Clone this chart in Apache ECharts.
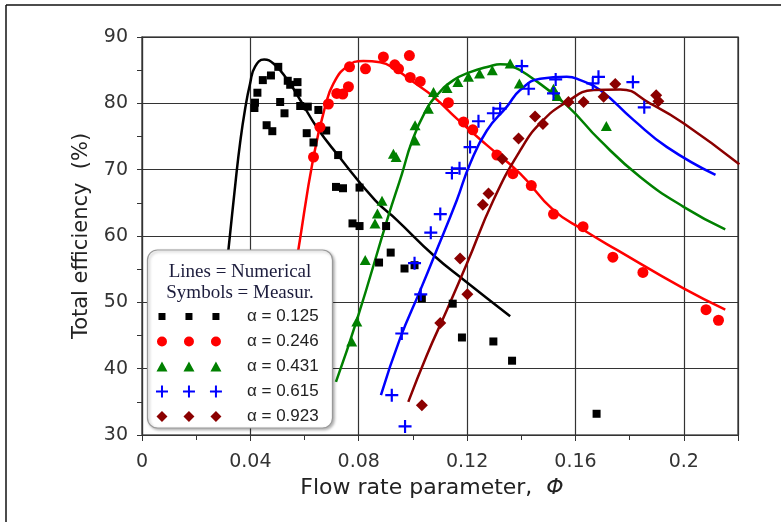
<!doctype html>
<html>
<head>
<meta charset="UTF-8">
<title>Total efficiency</title>
<style>
  html, body { margin: 0; padding: 0; background: #fff; }
  #main { width: 781px; height: 522px; }
</style>
</head>
<body>
<div id="main"></div>
<script src="https://cdn.jsdelivr.net/npm/echarts@6/dist/echarts.min.js"></script>
<script>
// measured points [phi, efficiency %]
var meas125 = [[0.0415,79.3],[0.0417,80.1],[0.0426,81.6],[0.0446,83.5],[0.0460,76.7],[0.0476,84.2],[0.0481,75.8],[0.0503,85.5],[0.0510,80.2],[0.0526,78.5],[0.0538,83.4],[0.0547,82.8],[0.0574,83.2],[0.0574,81.6],[0.0584,79.6],[0.0608,75.5],[0.0612,79.5],[0.0633,74.1],[0.0651,79.0],[0.0680,75.9],[0.0716,67.4],[0.0724,72.2],[0.0742,67.2],[0.0777,61.9],[0.0803,67.3],[0.0803,61.5],[0.0875,56.0],[0.0901,61.5],[0.0918,57.5],[0.0969,55.1],[0.1006,55.6],[0.1033,50.6],[0.1147,49.8],[0.1181,44.7],[0.1297,44.1],[0.1366,41.2],[0.1678,33.2]];
var meas246 = [[0.0633,71.9],[0.0657,76.4],[0.0688,79.9],[0.0719,81.5],[0.0741,81.4],[0.0762,82.5],[0.0766,85.5],[0.0825,85.2],[0.0891,87.0],[0.0933,85.8],[0.0947,85.2],[0.0987,87.2],[0.0990,83.9],[0.1027,83.3],[0.1131,80.1],[0.1187,77.2],[0.1221,76.0],[0.1310,72.2],[0.1369,69.4],[0.1437,67.6],[0.1519,63.3],[0.1628,61.4],[0.1738,56.8],[0.1849,54.5],[0.2082,48.9],[0.2128,47.3]];
var meas431 = [[0.0774,44.1],[0.0793,47.1],[0.0824,56.4],[0.0860,61.9],[0.0869,63.4],[0.0886,65.3],[0.0928,72.4],[0.0938,71.9],[0.1008,74.4],[0.1008,76.7],[0.1057,79.2],[0.1076,81.7],[0.1126,82.3],[0.1166,83.2],[0.1205,84.0],[0.1246,84.5],[0.1293,85.0],[0.1359,86.0],[0.1393,83.0],[0.1519,82.2],[0.1533,81.1],[0.1714,76.6]];
var meas615 = [[0.0971,31.3],[0.0922,36.0],[0.0959,45.3],[0.1029,51.2],[0.1006,55.9],[0.1066,60.5],[0.1101,63.3],[0.1144,69.5],[0.1172,70.2],[0.1211,73.4],[0.1242,77.3],[0.1297,78.5],[0.1322,79.2],[0.1402,85.6],[0.1427,82.2],[0.1527,83.6],[0.1519,81.5],[0.1685,84.0],[0.1664,83.0],[0.1812,83.2],[0.1854,79.4]];
var meas923 = [[0.1033,34.5],[0.1101,46.9],[0.1201,51.2],[0.1174,56.6],[0.1258,64.7],[0.1279,66.4],[0.1330,71.6],[0.1390,74.7],[0.1451,78.0],[0.1480,76.9],[0.1574,80.2],[0.1630,80.2],[0.1704,81.0],[0.1747,82.9],[0.1898,81.2],[0.1906,80.3]];

// numerical curves
var num125 = [[0.0293,48.0],[0.0319,57.9],[0.0346,68.4],[0.0362,74.0],[0.0380,79.0],[0.0399,83.0],[0.0417,85.5],[0.0451,86.6],[0.0485,86.0],[0.0534,83.7],[0.0584,80.5],[0.0645,76.4],[0.0719,72.4],[0.0860,65.4],[0.0941,62.4],[0.1076,57.1],[0.1187,53.4],[0.1359,47.9]];
var num246 = [[0.0538,48.0],[0.0577,57.9],[0.0633,71.9],[0.0676,79.5],[0.0707,83.0],[0.0756,85.5],[0.0817,86.4],[0.0879,86.2],[0.0940,85.0],[0.1002,83.2],[0.1076,81.0],[0.1162,77.7],[0.1273,73.7],[0.1396,69.4],[0.1519,63.9],[0.1630,60.9],[0.1753,57.9],[0.1999,52.1],[0.2153,48.9]];
var num431 = [[0.0716,38.0],[0.0793,47.3],[0.0910,63.1],[0.0959,69.3],[0.0996,74.2],[0.1045,78.7],[0.1088,81.2],[0.1150,83.5],[0.1211,84.7],[0.1285,85.6],[0.1322,85.9],[0.1371,85.5],[0.1433,84.0],[0.1568,79.7],[0.1691,74.4],[0.1839,68.9],[0.1999,64.4],[0.2153,61.0]];
var num615 = [[0.0882,36.0],[0.0953,44.6],[0.1027,51.8],[0.1082,57.3],[0.1162,65.4],[0.1211,70.9],[0.1273,75.9],[0.1347,79.5],[0.1396,82.0],[0.1470,83.7],[0.1568,84.0],[0.1618,83.5],[0.1691,82.0],[0.1814,77.5],[0.1938,73.4],[0.2117,69.2]];
var num923 = [[0.0983,35.0],[0.1051,42.0],[0.1125,48.8],[0.1199,55.8],[0.1297,65.4],[0.1396,72.9],[0.1470,77.0],[0.1568,80.2],[0.1667,82.0],[0.1765,82.1],[0.1875,80.0],[0.1999,77.0],[0.2205,70.8]];

var alphaNames = ['α = 0.125', 'α = 0.246', 'α = 0.431', 'α = 0.615', 'α = 0.923'];
var colors = ['#000000', '#ff0000', '#008000', '#0000ff', '#8b0000'];

// legend icons: three copies of the marker in a 95x12 frame
var frame = 'M0 0h0.01v0.01h-0.01zM95 12h0.01v0.01h-0.01z';
function three(fn) { return 'path://' + frame + fn(15) + fn(42) + fn(69); }
var iconSq = three(function (c) { return 'M' + (c - 3.5) + ' 2.5h7v7h-7z'; });
var iconCi = three(function (c) { return 'M' + (c - 5) + ' 6a5 5 0 1 0 10 0a5 5 0 1 0 -10 0z'; });
var iconTr = three(function (c) { return 'M' + (c - 5.5) + ' 11L' + c + ' 1L' + (c + 5.5) + ' 11z'; });
var iconPl = three(function (c) { return 'M' + (c - 1) + ' 0h2v5h5v2h-5v5h-2v-5h-5v-2h5z'; });
var iconDi = three(function (c) { return 'M' + c + ' 0.5L' + (c + 5.5) + ' 6L' + c + ' 11.5L' + (c - 5.5) + ' 6z'; });

var groups = [
    { meas: meas125, num: num125, symbol: 'rect', size: 8, icon: iconSq },
    { meas: meas246, num: num246, symbol: 'circle', size: 11, icon: iconCi },
    { meas: meas431, num: num431, symbol: 'triangle', size: [11, 10], icon: iconTr },
    { meas: meas615, num: num615, symbol: 'path://M5 0h2v5h5v2h-5v5h-2v-5h-5v-2h5z', size: 13, icon: iconPl },
    { meas: meas923, num: num923, symbol: 'diamond', size: 12, icon: iconDi }
];

var series = [];
groups.forEach(function (g, i) {
    series.push({
        name: alphaNames[i] + ' num',
        type: 'line',
        data: g.num,
        smooth: 0.5,
        showSymbol: false,
        lineStyle: { color: colors[i], width: 2.5 },
        itemStyle: { color: colors[i] },
        z: 2
    });
});
groups.forEach(function (g, i) {
    series.push({
        name: alphaNames[i],
        type: 'scatter',
        data: g.meas,
        symbol: g.symbol,
        symbolSize: g.size,
        itemStyle: { color: colors[i], opacity: 1 },
        z: 3
    });
});

var axisColor = '#333';
var labelFont = { fontFamily: 'DejaVu Sans', fontSize: 19, color: '#333' };

var chart = echarts.init(document.getElementById('main'));
chart.setOption({
    animation: false,
    backgroundColor: '#fff',
    grid: { left: 142, right: 43, top: 37, bottom: 87, show: true, borderColor: '#555', borderWidth: 1.5, outerBoundsMode: 'none' },
    xAxis: {
        type: 'value', min: 0, max: 0.22, interval: 0.04,
        name: 'Flow rate parameter,  {i|Φ}',
        nameLocation: 'middle', nameGap: 42,
        nameTextStyle: { fontFamily: 'DejaVu Sans', fontSize: 22, color: '#222', padding: [0, 16, 0, 0],
            rich: { i: { fontFamily: 'DejaVu Sans', fontSize: 22, fontStyle: 'italic', color: '#222' } } },
        axisLine: { show: true, lineStyle: { color: axisColor, width: 1.2 } },
        axisTick: { show: true, length: 6, lineStyle: { color: axisColor } },
        minorTick: { show: true, splitNumber: 2, length: 5, lineStyle: { color: axisColor } },
        splitLine: { show: true, lineStyle: { color: axisColor, width: 1.2 } },
        axisLabel: Object.assign({ margin: 18, showMaxLabel: false }, labelFont)
    },
    yAxis: {
        type: 'value', min: 30, max: 90, interval: 10,
        name: 'Total efficiency  (%)',
        nameLocation: 'middle', nameGap: 50,
        nameTextStyle: { fontFamily: 'DejaVu Sans', fontSize: 21, color: '#222' },
        axisLine: { show: true, lineStyle: { color: axisColor, width: 1.2 } },
        axisTick: { show: true, length: 5, lineStyle: { color: axisColor } },
        minorTick: { show: true, splitNumber: 2, length: 5, lineStyle: { color: axisColor } },
        splitLine: { show: true, lineStyle: { color: axisColor, width: 1.2 } },
        axisLabel: Object.assign({ margin: 14 }, labelFont)
    },
    legend: {
        orient: 'vertical', left: 147, top: 308, padding: 0,
        itemWidth: 95, itemHeight: 12, itemGap: 8,
        selectedMode: false, symbolKeepAspect: true, z: 5,
        textStyle: { fontFamily: 'Liberation Sans', fontSize: 17, color: '#222' },
        data: alphaNames.map(function (n, i) {
            return { name: n, icon: groups[i].icon, itemStyle: { color: colors[i] } };
        })
    },
    graphic: [
        { type: 'line', z: 10, shape: { x1: 6, y1: 5, x2: 781, y2: 5 }, style: { stroke: '#111', lineWidth: 1.5 } },
        { type: 'line', z: 10, shape: { x1: 6, y1: 5, x2: 6, y2: 522 }, style: { stroke: '#111', lineWidth: 1.5 } },
        { type: 'rect', z: 4, shape: { x: 147.5, y: 250, width: 185, height: 178, r: 10 },
          style: { fill: '#fff', stroke: '#999', lineWidth: 1.2, shadowBlur: 3, shadowOffsetX: 1.5, shadowOffsetY: 1.5, shadowColor: 'rgba(0,0,0,0.3)' } },
        { type: 'text', z: 6, x: 240, y: 272, style: { text: 'Lines = Numerical', font: '19px "Liberation Serif"', fill: '#1c1c3c', align: 'center', verticalAlign: 'middle' } },
        { type: 'text', z: 6, x: 240, y: 293, style: { text: 'Symbols = Measur.', font: '19px "Liberation Serif"', fill: '#1c1c3c', align: 'center', verticalAlign: 'middle' } }
    ],
    series: series
});
</script>
</body>
</html>
